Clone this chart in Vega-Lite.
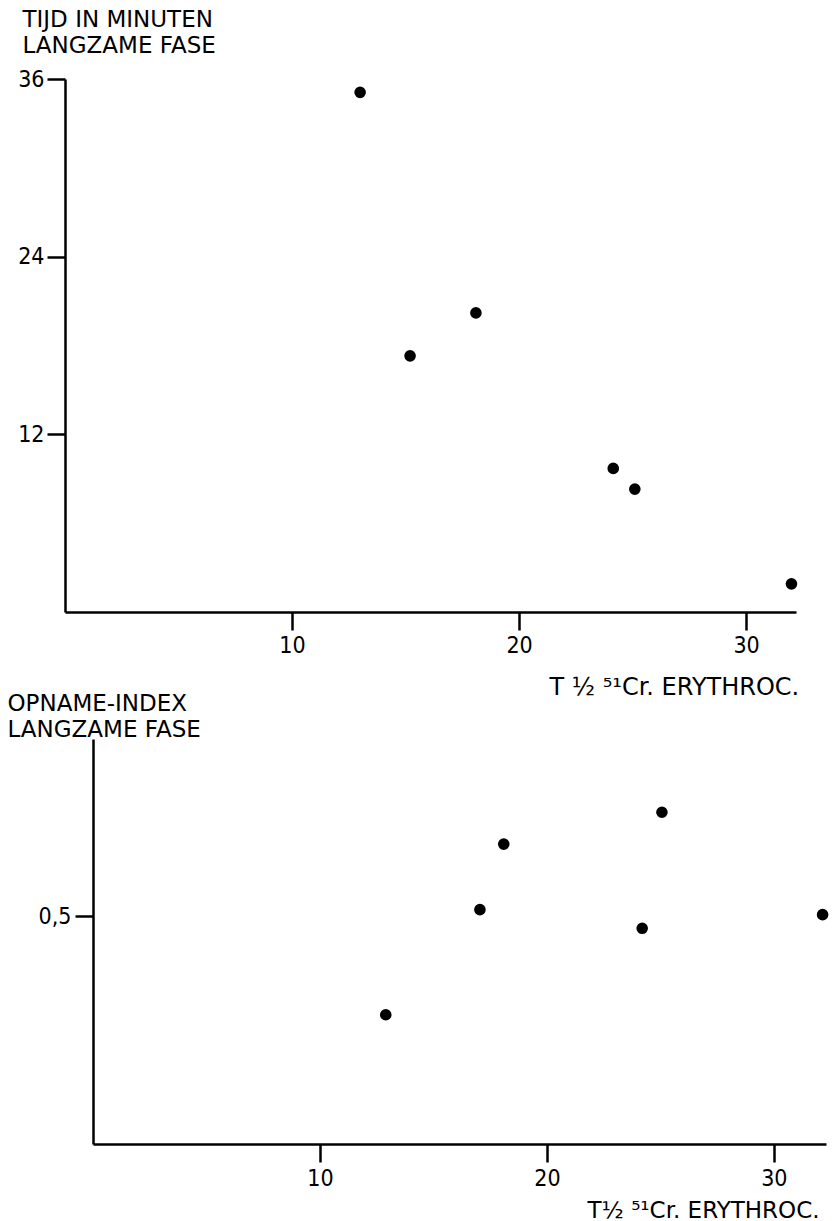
{
  "$schema": "https://vega.github.io/schema/vega-lite/v6.json",
  "background": "white",
  "padding": {"left": 7, "top": 8, "right": 0, "bottom": 0},
  "config": {
    "view": {"stroke": null},
    "axis": {
      "grid": false,
      "domainColor": "black",
      "domainWidth": 2.5,
      "tickColor": "black",
      "tickWidth": 2.5,
      "tickSize": 18,
      "labelColor": "black",
      "labelFont": "DejaVu Sans Condensed",
      "labelFontSize": 23,
      "labelPadding": 4,
      "labelFlush": false,
      "labelOverlap": false,
      "titleColor": "black",
      "titleFont": "DejaVu Sans",
      "titleFontSize": 23,
      "titleFontWeight": "normal",
      "titleAngle": 0,
      "titleAlign": "left",
      "titleBaseline": "alphabetic",
      "titleLineHeight": 26
    }
  },
  "datasets": {
    "tijd": [
      {"t_half": 13.0, "tijd_min": 35.1},
      {"t_half": 15.2, "tijd_min": 17.3},
      {"t_half": 18.1, "tijd_min": 20.2},
      {"t_half": 24.15, "tijd_min": 9.7},
      {"t_half": 25.1, "tijd_min": 8.3},
      {"t_half": 32.0, "tijd_min": 1.9}
    ],
    "opname": [
      {"t_half": 12.9, "index": 0.284},
      {"t_half": 17.05, "index": 0.515},
      {"t_half": 18.1, "index": 0.659},
      {"t_half": 24.2, "index": 0.474},
      {"t_half": 25.07, "index": 0.729},
      {"t_half": 32.15, "index": 0.504}
    ]
  },
  "bounds": "flush",
  "spacing": 127,
  "vconcat": [
    {
      "width": 731,
      "height": 533,
      "data": {"name": "tijd"},
      "mark": {"type": "circle", "color": "black", "size": 135, "opacity": 1},
      "encoding": {
        "x": {
          "field": "t_half",
          "type": "quantitative",
          "scale": {"domain": [0, 32.2], "nice": false, "zero": false},
          "axis": {
            "values": [10, 20, 30],
            "title": "T ½  ⁵¹Cr. ERYTHROC.",
            "titleFontSize": 24,
            "titleX": 484,
            "titleY": 82
          }
        },
        "y": {
          "field": "tijd_min",
          "type": "quantitative",
          "scale": {"domain": [0, 36], "nice": false, "zero": false},
          "axis": {
            "values": [12, 24, 36],
            "labelPadding": 3,
            "title": ["TIJD IN MINUTEN", "LANGZAME FASE"],
            "titleX": -43,
            "titleY": -53
          }
        }
      }
    },
    {
      "bounds": "flush",
      "spacing": 0,
      "hconcat": [
        {
          "width": 28,
          "height": 405,
          "data": {"values": []},
          "mark": {"type": "point", "opacity": 0}
        },
        {
          "width": 733,
          "height": 405,
          "data": {"name": "opname"},
          "mark": {"type": "circle", "color": "black", "size": 135, "opacity": 1},
          "encoding": {
            "x": {
              "field": "t_half",
              "type": "quantitative",
              "scale": {"domain": [0, 32.3], "nice": false, "zero": false},
              "axis": {
                "values": [10, 20, 30],
                "labelPadding": 5,
                "title": "T½ ⁵¹Cr. ERYTHROC.",
                "titleFontSize": 23,
                "titleX": 494,
                "titleY": 73
              }
            },
            "y": {
              "field": "index",
              "type": "quantitative",
              "scale": {"domain": [0, 0.89], "nice": false, "zero": false},
              "axis": {
                "values": [0.5],
                "labelExpr": "replace(format(datum.value, '.1f'), '.', ',')",
                "title": ["OPNAME-INDEX", "LANGZAME FASE"],
                "titleX": -86,
                "titleY": -29
              }
            }
          }
        }
      ]
    }
  ]
}
